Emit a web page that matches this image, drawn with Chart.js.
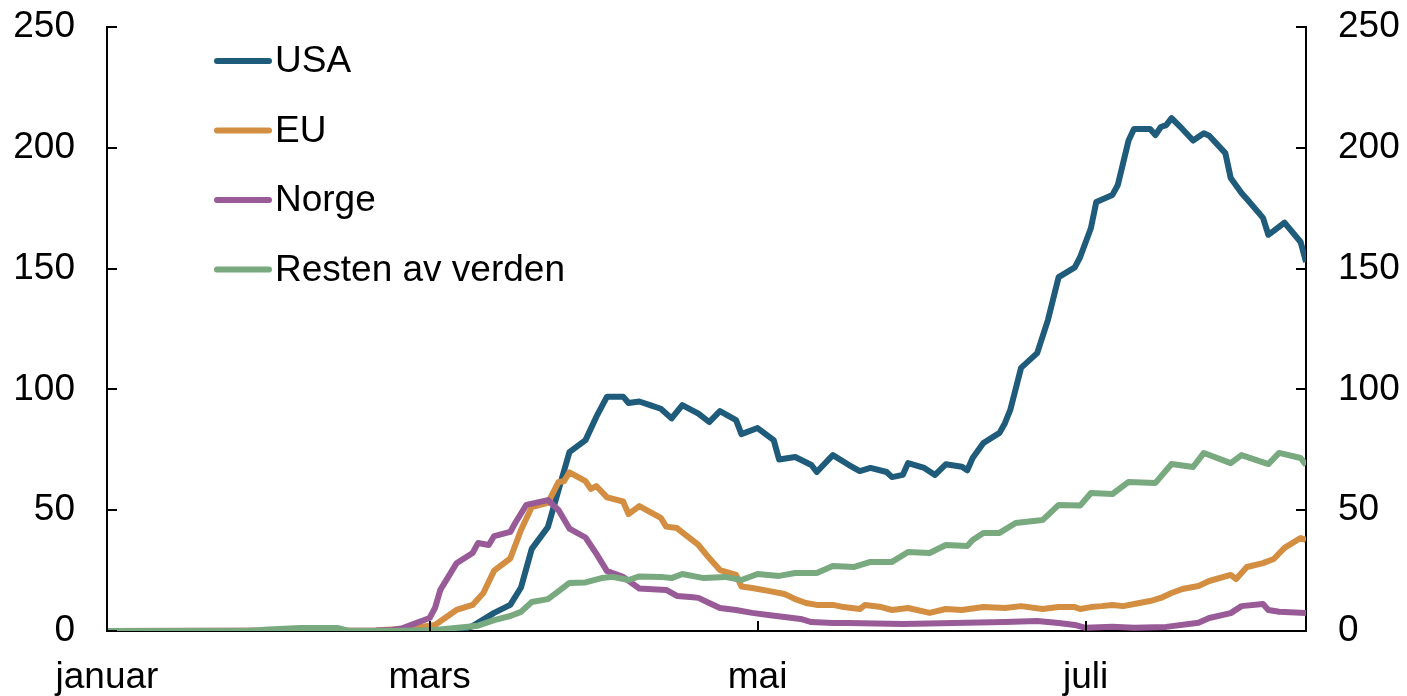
<!DOCTYPE html>
<html>
<head>
<meta charset="utf-8">
<script src="https://cdn.jsdelivr.net/npm/chart.js@4.4.1/dist/chart.umd.min.js"></script>
<style>
  body { margin: 0; background: #fff; }
  #wrap { width: 1407px; height: 696px; position: relative; }
</style>
</head>
<body>
<div id="wrap"><canvas id="chart"></canvas></div>
<script>
// Days counted from 1 January (0 = 1 Jan, 60 = 1 Mar, 121 = 1 May, 182 = 1 Jul)
const monthDays = [0, 60, 121, 182];
const monthLabels = ['januar', 'mars', 'mai', 'juli'];

const seriesNames = ['USA', 'EU', 'Norge', 'Resten av verden'];
const seriesColors = ['#1f5b7a', '#d38e42', '#995b98', '#79a97f'];

// USA
const usaDays = [0, 62, 66, 68, 72, 75, 77, 79, 82, 86, 89, 91, 93, 96, 97, 99, 101, 103, 105, 107, 110, 112, 114, 117, 118, 121, 124, 125, 128, 131, 132, 135, 138, 140, 142, 145, 146, 148, 149, 152, 154, 156, 159, 160, 161, 163, 166, 167, 168, 170, 173, 175, 177, 180, 181, 183, 184, 187, 188, 190, 191, 194, 195, 196, 197, 198, 200, 202, 204, 205, 208, 209, 211, 212, 215, 216, 217, 219, 222, 223];
const usaValues = [0, 0, 0.5, 2, 7.5, 10.8, 18, 34, 43, 74, 79, 88.6, 97, 97, 94.4, 95, 93.5, 92, 88, 93.5, 90, 86.5, 91, 87.3, 81.5, 84, 79, 71, 72, 68.7, 65.8, 72.8, 68.7, 66.2, 67.5, 65.8, 63.7, 64.6, 69.5, 67.5, 64.6, 69, 68, 66.5, 71.6, 77.8, 82, 86, 91.5, 108.9, 115, 128.7, 146.5, 150.5, 154.8, 166.8, 177.6, 180.5, 184.6, 203, 207.8, 207.8, 205.3, 208.6, 209.4, 212.3, 207.8, 203, 206, 205, 197.8, 187.5, 181.3, 178.8, 171, 164, 165.6, 169, 161, 152.7];

// EU
const euDays = [0, 50, 56, 61, 65, 68, 70, 72, 75, 77, 79, 82, 84, 85, 86, 89, 90, 91, 93, 96, 97, 99, 103, 104, 106, 107, 110, 112, 114, 117, 118, 120, 123, 126, 128, 130, 132, 135, 137, 140, 141, 144, 146, 149, 153, 156, 159, 163, 167, 170, 174, 177, 180, 181, 183, 185, 187, 189, 192, 194, 196, 198, 200, 203, 205, 209, 210, 212, 215, 217, 219, 222, 223];
const euValues = [0, 0.2, 1, 2.5, 8.7, 10.8, 15.7, 25, 30, 41.8, 51.3, 53, 61.7, 62, 65.7, 62, 58.8, 60, 55.3, 53.6, 48.4, 51.7, 46.8, 43.2, 42.6, 40.8, 35.6, 30.2, 25.2, 23.2, 18.4, 17.8, 16.6, 15.3, 13.2, 11.6, 10.8, 10.8, 9.9, 9.1, 10.8, 9.9, 8.7, 9.5, 7.5, 9.1, 8.7, 9.9, 9.5, 10.3, 9.1, 9.9, 9.9, 9.1, 9.9, 10.3, 10.8, 10.3, 11.6, 12.4, 13.7, 15.7, 17.4, 18.6, 20.7, 23.2, 21.5, 26.5, 28.1, 29.8, 34.4, 38.5, 37.7];

// Norge
const norDays = [0, 50, 53, 55, 58, 60, 61, 62, 65, 68, 69, 71, 72, 75, 76, 78, 82, 84, 86, 89, 91, 93, 96, 99, 104, 106, 109, 110, 112, 114, 117, 120, 123, 126, 129, 131, 135, 138, 148, 167, 173, 177, 180, 182, 187, 191, 197, 203, 205, 209, 211, 215, 216, 218, 223];
const norValues = [0, 0.2, 0.4, 1.2, 3.7, 5.4, 9.5, 17, 28, 32.3, 36.4, 35.6, 39.3, 41, 45, 52.2, 54.2, 50, 42.4, 38.7, 32, 24.8, 22.4, 17.6, 17, 14.5, 14, 13.7, 11.6, 9.5, 8.7, 7.5, 6.6, 5.8, 5, 3.7, 3.3, 3.3, 2.9, 3.7, 4.1, 3.3, 2.5, 1.3, 1.8, 1.3, 1.7, 3.4, 5.4, 7.4, 10.3, 11.2, 8.7, 8, 7.4];

// Resten av verden
const rowDays = [0, 26, 30, 36, 43, 45, 53, 61, 69, 72, 75, 77, 79, 82, 84, 86, 89, 92, 94, 97, 99, 103, 105, 107, 111, 115, 118, 121, 125, 128, 132, 135, 139, 142, 146, 149, 153, 156, 160, 161, 163, 166, 169, 174, 177, 181, 183, 187, 190, 195, 198, 202, 204, 209, 211, 216, 218, 222, 223];
const rowValues = [0, 0, 0.6, 1.2, 1.2, 0, 0, 0.4, 2.2, 4.5, 6.2, 7.9, 12, 13.2, 16.5, 19.9, 20.1, 21.9, 22.4, 21.1, 22.6, 22.4, 21.9, 23.6, 21.9, 22.4, 21.1, 23.6, 22.8, 24, 24, 26.9, 26.5, 28.6, 28.6, 32.7, 32.3, 35.6, 35.2, 37.7, 40.6, 40.6, 44.7, 45.9, 52.2, 51.9, 57.1, 56.7, 61.7, 61.3, 69.1, 67.9, 73.7, 69.5, 72.8, 69.1, 73.7, 71.6, 68.7];

const yTicks = [0, 50, 100, 150, 200, 250];

function toPoints(days, values) {
    return days.map((d, i) => ({ x: d, y: values[i] }));
}

const seriesData = [
    toPoints(usaDays, usaValues),
    toPoints(euDays, euValues),
    toPoints(norDays, norValues),
    toPoints(rowDays, rowValues),
];

const FONT = { family: "'Liberation Sans', Arial, sans-serif", size: 37 };

// ticks pointing into the plot, like the original
const innerTicks = {
    id: 'innerTicks',
    afterDraw(chart) {
        const { ctx, chartArea, scales } = chart;
        ctx.save();
        ctx.strokeStyle = '#000';
        ctx.lineWidth = 2;
        ctx.beginPath();
        monthDays.forEach(d => {
            const px = Math.round(scales.x.getPixelForValue(d));
            ctx.moveTo(px, chartArea.bottom);
            ctx.lineTo(px, chartArea.bottom - 10);
        });
        yTicks.forEach(v => {
            const py = Math.round(scales.y.getPixelForValue(v));
            ctx.moveTo(chartArea.left, py);
            ctx.lineTo(chartArea.left + 10, py);
            ctx.moveTo(chartArea.right, py);
            ctx.lineTo(chartArea.right - 10, py);
        });
        ctx.stroke();
        ctx.restore();
    }
};

// legend inside the plot, top left
const innerLegend = {
    id: 'innerLegend',
    afterDraw(chart) {
        const { ctx, chartArea } = chart;
        ctx.save();
        ctx.font = `${FONT.size}px ${FONT.family}`;
        ctx.textBaseline = 'middle';
        ctx.fillStyle = '#000';
        seriesNames.forEach((name, i) => {
            const y = chartArea.top + 34 + i * 69.5;
            const x0 = chartArea.left + 110;
            ctx.strokeStyle = seriesColors[i];
            ctx.lineWidth = 6;
            ctx.lineCap = 'round';
            ctx.beginPath();
            ctx.moveTo(x0, y);
            ctx.lineTo(x0 + 52, y);
            ctx.stroke();
            ctx.fillText(name, x0 + 58, y + 1);
        });
        ctx.restore();
    }
};

// fixed axis sizes so the plot sits where it does in the original
function fitY(width) {
    return scale => {
        scale.width = width;
        scale.paddingTop = 0;
        scale.paddingBottom = 0;
    };
}

new Chart(document.getElementById('chart'), {
    type: 'line',
    data: {
        datasets: seriesNames.map((name, i) => ({
            label: name,
            data: seriesData[i],
            borderColor: seriesColors[i],
            backgroundColor: seriesColors[i],
            borderWidth: 6,
            pointRadius: 0,
            tension: 0,
            borderJoinStyle: 'round',
            order: seriesNames.length - i,
        })),
    },
    options: {
        responsive: true,
        maintainAspectRatio: false,
        animation: false,
        layout: { autoPadding: false, padding: { top: 27, left: 0, right: 0, bottom: 0 } },
        plugins: {
            legend: { display: false },
            tooltip: { enabled: false },
        },
        scales: {
            x: {
                type: 'linear',
                min: 0,
                max: 223,
                afterBuildTicks: scale => {
                    scale.ticks = monthDays.map(v => ({ value: v }));
                },
                afterFit: scale => {
                    scale.height = 65;
                    scale.paddingLeft = 0;
                    scale.paddingRight = 0;
                },
                ticks: {
                    autoSkip: false,
                    maxRotation: 0,
                    padding: 25,
                    color: '#000',
                    font: FONT,
                    callback: value => monthLabels[monthDays.indexOf(value)],
                },
                grid: { display: false, drawTicks: false },
                border: { display: true, color: '#000', width: 2 },
            },
            y: {
                position: 'left',
                min: 0,
                max: 250,
                afterBuildTicks: scale => {
                    scale.ticks = yTicks.map(v => ({ value: v }));
                },
                afterFit: fitY(107),
                ticks: { padding: 32, color: '#000', font: FONT },
                grid: { display: false, drawTicks: false },
                border: { display: true, color: '#000', width: 2 },
            },
            y2: {
                position: 'right',
                min: 0,
                max: 250,
                afterBuildTicks: scale => {
                    scale.ticks = yTicks.map(v => ({ value: v }));
                },
                afterFit: fitY(101),
                ticks: { padding: 32, color: '#000', font: FONT },
                grid: { display: false, drawTicks: false },
                border: { display: true, color: '#000', width: 2 },
            },
        },
    },
    plugins: [innerTicks, innerLegend],
});
</script>
</body>
</html>
